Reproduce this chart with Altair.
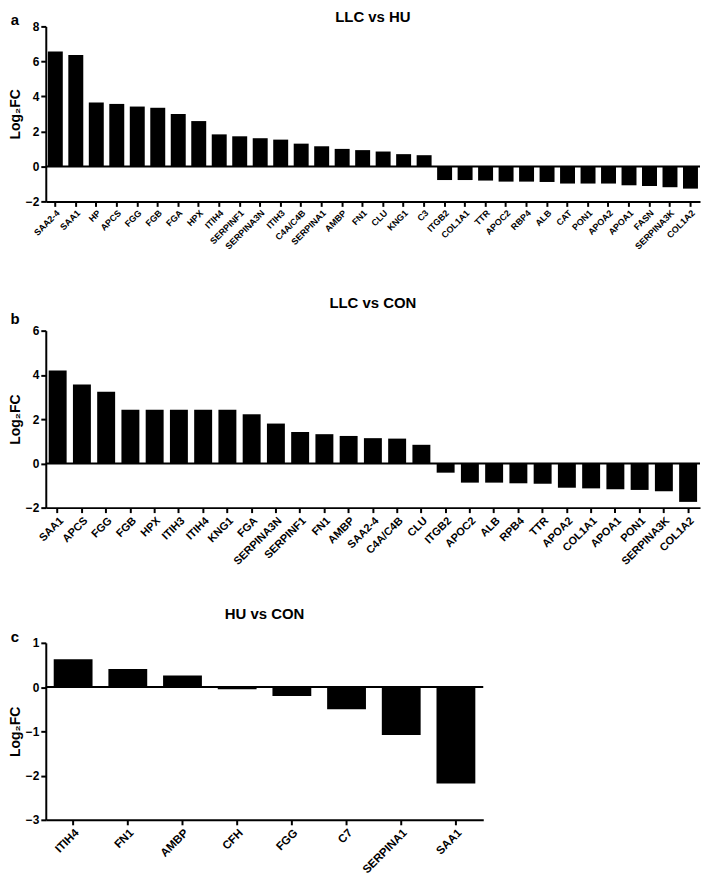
import altair as alt
import pandas as pd

# ---------------- data ----------------
a_genes = ["SAA2-4", "SAA1", "HP", "APCS", "FGG", "FGB", "FGA", "HPX", "ITIH4",
           "SERPINF1", "SERPINA3N", "ITIH3", "C4A/C4B", "SERPINA1", "AMBP", "FN1",
           "CLU", "KNG1", "C3", "ITGB2", "COL1A1", "TTR", "APOC2", "RBP4", "ALB",
           "CAT", "PON1", "APOA2", "APOA1", "FASN", "SERPINA3K", "COL1A2"]
a_values = [6.56, 6.37, 3.65, 3.57, 3.42, 3.35, 3.0, 2.59, 1.83, 1.72, 1.61, 1.53,
            1.30, 1.15, 1.0, 0.93, 0.85, 0.70, 0.64, -0.78, -0.78, -0.81, -0.87,
            -0.87, -0.89, -0.98, -0.98, -0.98, -1.08, -1.12, -1.19, -1.27]

b_genes = ["SAA1", "APCS", "FGG", "FGB", "HPX", "ITIH3", "ITIH4", "KNG1", "FGA",
           "SERPINA3N", "SERPINF1", "FN1", "AMBP", "SAA2-4", "C4A/C4B", "CLU",
           "ITGB2", "APOC2", "ALB", "RPB4", "TTR", "APOA2", "COL1A1", "APOA1",
           "PON1", "SERPINA3K", "COL1A2"]
b_values = [4.2, 3.57, 3.24, 2.43, 2.43, 2.43, 2.43, 2.43, 2.22, 1.8, 1.42, 1.32,
            1.24, 1.14, 1.12, 0.84, -0.42, -0.87, -0.87, -0.9, -0.92, -1.1, -1.13,
            -1.17, -1.2, -1.26, -1.74]

c_genes = ["ITIH4", "FN1", "AMBP", "CFH", "FGG", "C7", "SERPINA1", "SAA1"]
c_values = [0.63, 0.41, 0.26, -0.05, -0.2, -0.5, -1.08, -2.18]

titles = ["LLC vs HU", "LLC vs CON", "HU vs CON"]
letters = ["a", "b", "c"]

FONT = "Liberation Sans"
YTITLE = "Log\u2082FC"


def panel(genes, values, title, letter, domain, ticks, width, height,
          label_size, p_inner, p_outer, letter_dy, title_dy, title_baseline):
    df = pd.DataFrame({"gene": genes, "value": values})
    x = alt.X(
        "gene:N", sort=genes, title=None,
        scale=alt.Scale(paddingInner=p_inner, paddingOuter=p_outer),
        axis=alt.Axis(labelAngle=-45, labelFont=FONT, labelFontSize=label_size,
                      labelFontWeight="bold", labelColor="black", labelOverlap=False,
                      labelPadding=2, tickSize=5, tickWidth=2, tickColor="black",
                      domainColor="black", domainWidth=2, grid=False),
    )
    yaxis = alt.Axis(values=ticks, labelFont=FONT, labelFontSize=12, labelFontWeight="bold",
                     labelColor="black", labelOverlap=False, labelBound=False,
                     tickSize=5, tickWidth=2,
                     tickColor="black", domainColor="black", domainWidth=2, grid=False,
                     labelPadding=2, titleFont=FONT, titleFontSize=14,
                     titleFontWeight="bold", titleColor="black", titlePadding=3)
    yscale = alt.Scale(domain=domain, nice=False, zero=False)
    bars = alt.Chart(df).mark_bar(color="black").encode(
        x=x, y=alt.Y("value:Q", title=YTITLE, scale=yscale, axis=yaxis))
    zero = alt.Chart(pd.DataFrame({"z": [0]})).mark_rule(color="black", strokeWidth=2).encode(
        y=alt.Y("z:Q", title=YTITLE, scale=yscale, axis=yaxis))
    lab = alt.Chart(pd.DataFrame({"t": [letter]})).mark_text(
        font=FONT, fontSize=15, fontWeight="bold", color="black", align="center",
        baseline="middle").encode(x=alt.value(-31), y=alt.value(letter_dy), text="t:N")
    ttl = alt.Chart(pd.DataFrame({"t": [title]})).mark_text(
        font=FONT, fontSize=15, fontWeight="bold", color="black", align="center",
        baseline=title_baseline).encode(x=alt.value(width / 2), y=alt.value(title_dy),
                                        text="t:N")
    return alt.layer(bars, zero, lab, ttl).properties(width=width, height=height)


pa = panel(a_genes, a_values, titles[0], letters[0], [-2, 8], [-2, 0, 2, 4, 6, 8], 658, 176,
           9, 0.27, 0.1, -6, -16, "top")
pb = panel(b_genes, b_values, titles[1], letters[1], [-2, 6], [-2, 0, 2, 4, 6], 658, 178,
           11, 0.26, 0.12, -12, -28, "middle")
pc = panel(c_genes, c_values, titles[2], letters[2], [-3, 1], [-3, -2, -1, 0, 1], 440, 178,
           11.5, 0.29, 0.145, -6, -29, "middle")

chart = (
    alt.vconcat(pa, alt.vconcat(pb, pc, spacing=40), spacing=45)
    .properties(padding=0)
    .configure(background="white")
    .configure_axis(labelOverlap=False)
    .configure_view(stroke=None)
)

chart.save("out.html", embed_options={"renderer": "svg", "actions": False})
